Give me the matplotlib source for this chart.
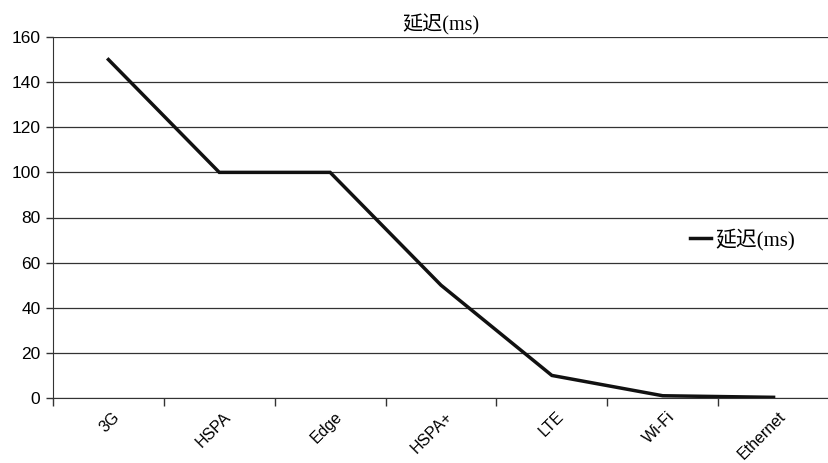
import numpy as np
import matplotlib
matplotlib.use('Agg')
import matplotlib.pyplot as plt
from matplotlib.ticker import FixedLocator
from matplotlib.transforms import ScaledTranslation

# latency per network type
networks = ['3G', 'HSPA', 'Edge', 'HSPA+', 'LTE', 'Wi-Fi', 'Ethernet']
latency_ms = [150, 100, 100, 50, 10, 1, 0.3]
yticks = [0, 20, 40, 60, 80, 100, 120, 140, 160]
series_name = '延迟(ms)'

cjk = ['Liberation Serif', 'Noto Sans CJK SC']

fig = plt.figure(figsize=(8.29, 4.63), dpi=100)
ax = fig.add_axes([53 / 829, 1 - 398 / 463, 1 - 53 / 829, (398 - 37) / 463])

x = np.arange(len(networks))
ax.plot(x, latency_ms, color='#111111', linewidth=2.5, solid_joinstyle='miter',
        label=series_name)

ax.set_xlim(-0.5, len(networks) - 0.5)
ax.set_ylim(0, 160)
ax.set_yticks(yticks)
ax.set_yticklabels([str(v) for v in yticks], fontsize=12.5, family='Liberation Sans')
ax.grid(axis='y', color='#333333', linewidth=0.9)
ax.set_axisbelow(True)

# category labels, ticks sit on the category boundaries
ax.set_xticks(x)
ax.set_xticklabels(networks, rotation=45, ha='right', rotation_mode='anchor',
                   fontsize=11.5, family='Liberation Sans')
ax.tick_params(axis='x', which='major', length=0, pad=8)
shift = ScaledTranslation(4 / 100, 0, fig.dpi_scale_trans)
for lbl in ax.get_xticklabels():
    lbl.set_transform(lbl.get_transform() + shift)
ax.xaxis.set_minor_locator(FixedLocator(np.arange(len(networks) + 1) - 0.5))
ax.tick_params(axis='x', which='minor', length=6, width=1, color='#333333')
ax.tick_params(axis='y', length=5, width=1, color='#333333', pad=4)

for side in ['top', 'right']:
    ax.spines[side].set_visible(False)
ax.spines['left'].set_color('#333333')
ax.spines['bottom'].set_color('#333333')

ax.set_title(series_name, fontsize=14.5, family=cjk, pad=5)
leg = ax.legend(loc='center left', bbox_to_anchor=(0.797, 0.44), frameon=False,
                prop={'family': cjk, 'size': 15}, handlelength=1.0,
                handletextpad=0.2)

fig.savefig('out.png', dpi=100)
